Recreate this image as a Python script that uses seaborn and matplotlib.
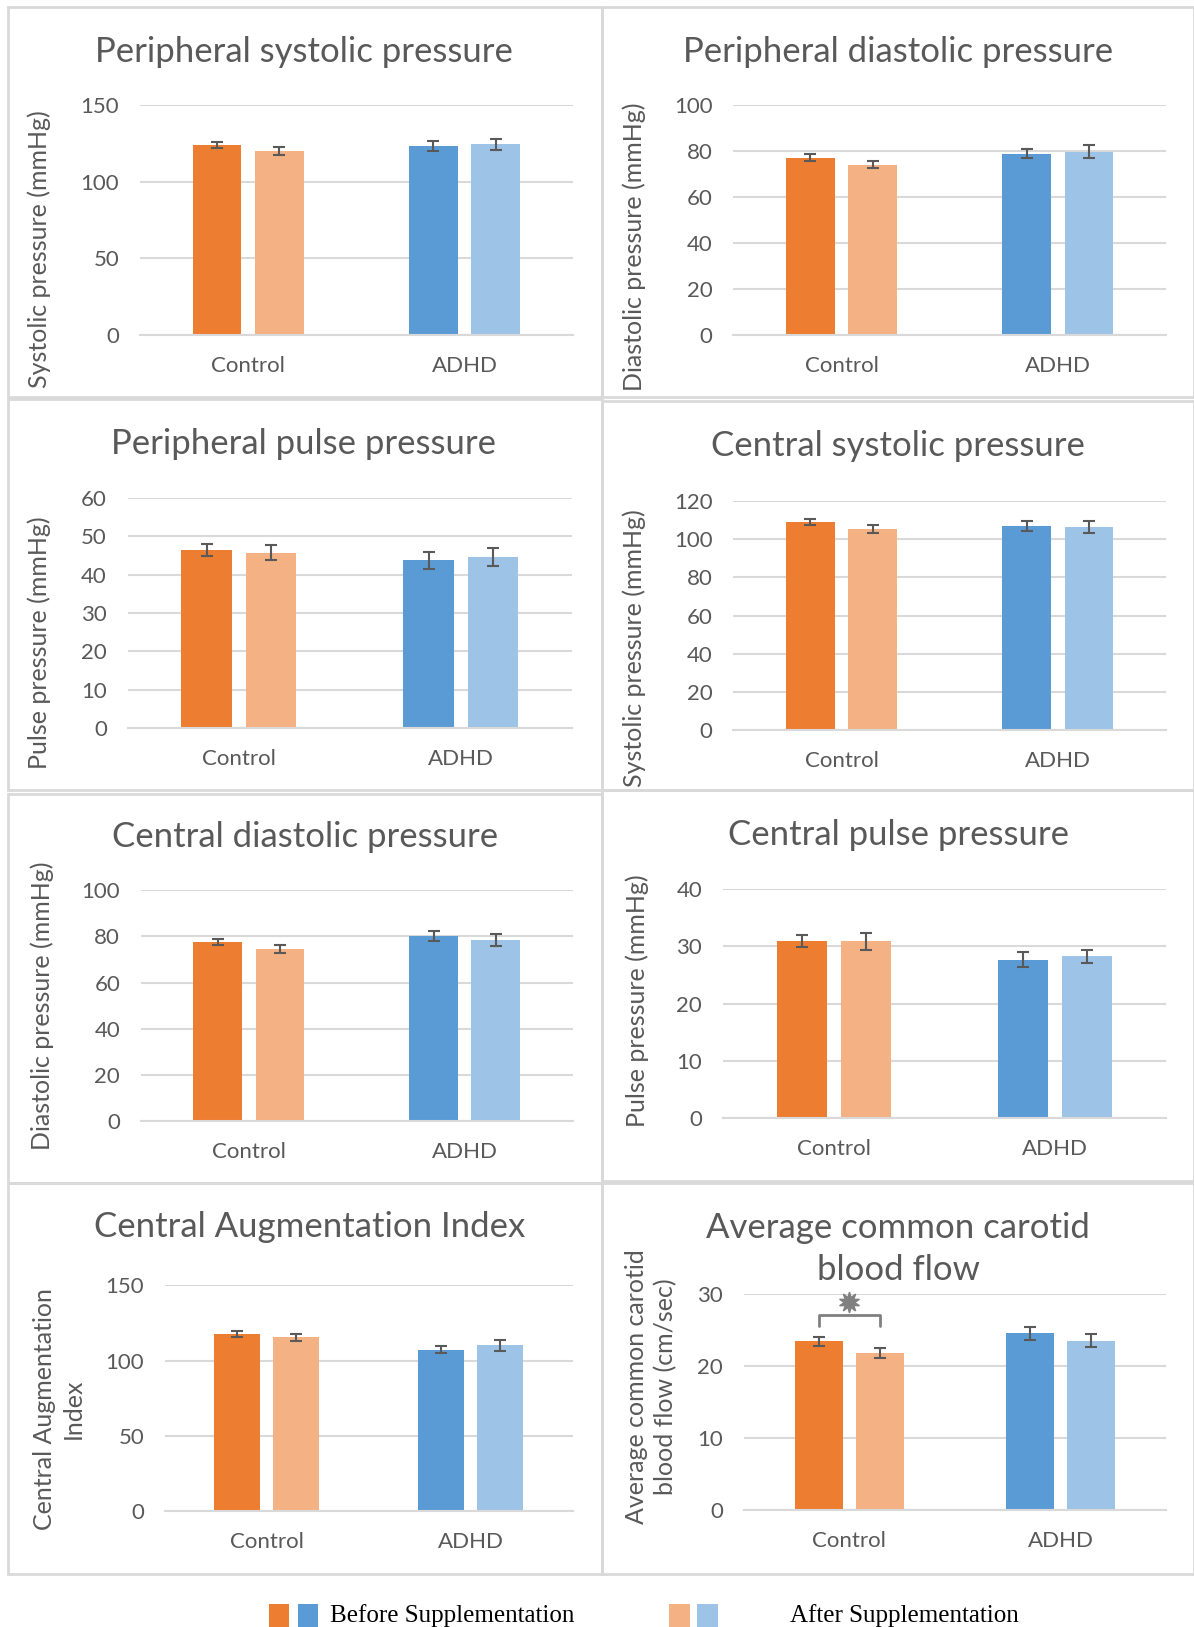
import numpy as np
import pandas as pd
import matplotlib
matplotlib.use("Agg")
import matplotlib.pyplot as plt
import seaborn as sns
from matplotlib.patches import Rectangle

W, H = 1194, 1627
S = 1194 / 1151  # layout was measured on the shrunk view

groups = ["Control", "ADHD"]
times = ["Before Supplementation", "After Supplementation"]

# value order: Control before, Control after, ADHD before, ADHD after
periph_sys = [123.8, 119.9, 123.1, 124.4]
periph_sys_err = [2.0, 2.5, 3.3, 3.6]
periph_dia = [77.0, 73.9, 78.8, 79.7]
periph_dia_err = [1.5, 1.5, 2.0, 2.7]
periph_pulse = [46.5, 45.7, 43.8, 44.6]
periph_pulse_err = [1.6, 2.0, 2.2, 2.4]
central_sys = [109.1, 105.3, 107.0, 106.4]
central_sys_err = [1.6, 2.2, 2.7, 3.0]
central_dia = [77.4, 74.6, 80.0, 78.3]
central_dia_err = [1.3, 1.8, 2.2, 2.7]
central_pulse = [31.0, 30.85, 27.7, 28.25]
central_pulse_err = [1.05, 1.55, 1.25, 1.15]
central_aix = [117.7, 115.6, 107.4, 110.1]
central_aix_err = [2.0, 2.4, 2.0, 3.4]
carotid_flow = [23.4, 21.8, 24.5, 23.5]
carotid_flow_err = [0.6, 0.65, 0.9, 0.9]

titles = ["Peripheral systolic pressure", "Peripheral diastolic pressure",
          "Peripheral pulse pressure", "Central systolic pressure",
          "Central diastolic pressure", "Central pulse pressure",
          "Central Augmentation Index", "Average common carotid\nblood flow"]
ylabels = ["Systolic pressure (mmHg)", "Diastolic pressure (mmHg)",
           "Pulse pressure (mmHg)", "Systolic pressure (mmHg)",
           "Diastolic pressure (mmHg)", "Pulse pressure (mmHg)",
           "Central Augmentation\nIndex", "Average common carotid\nblood flow (cm/sec)"]
series = [(periph_sys, periph_sys_err), (periph_dia, periph_dia_err),
          (periph_pulse, periph_pulse_err), (central_sys, central_sys_err),
          (central_dia, central_dia_err), (central_pulse, central_pulse_err),
          (central_aix, central_aix_err), (carotid_flow, carotid_flow_err)]
ymax = [150, 100, 60, 120, 100, 40, 150, 30]
ystep = [50, 20, 10, 20, 20, 10, 50, 10]

# layout in shrunk-view pixels
axes_box = [(135, 552, 101, 323), (707, 1124, 101, 323),
            (123, 551, 480, 702), (707, 1124, 483, 704),
            (136, 552, 858, 1081), (697, 1124, 857, 1078),
            (159, 552, 1239, 1457), (717, 1124, 1247, 1456)]
border_box = [(8, 580, 7, 383), (580, 1151, 7, 383),
              (8, 580, 385, 762), (580, 1151, 387, 762),
              (8, 580, 765, 1140), (580, 1151, 762, 1138),
              (8, 580, 1140, 1517), (580, 1151, 1140, 1517)]
title_pos = [(293, 50), (866, 50), (293, 428), (866, 430),
             (294, 807), (866, 805), (298, 1183), (866, 1204)]
ylabel_pos = [(38, 240), (611, 238), (38, 620), (611, 625),
              (41, 970), (614, 965), (57, 1358), (628, 1337)]

colors = {"Control": ["#ED7D31", "#F4B183"], "ADHD": ["#5B9BD5", "#9DC3E6"]}
TXT = "#595959"
GRID = "#D9D9D9"


def fx(px):
    return px * S / W


def fy(py):
    return 1 - py * S / H


sns.set_theme(style="white")
plt.rcParams["font.family"] = ["Lato", "DejaVu Sans"]

fig = plt.figure(figsize=(W / 100, H / 100), dpi=100)

for i in range(8):
    l, r, t, b = border_box[i]
    fig.add_artist(Rectangle((fx(l), fy(b)), fx(r) - fx(l), fy(t) - fy(b),
                             transform=fig.transFigure, fill=False,
                             edgecolor=GRID, lw=2))

    l, r, t, b = axes_box[i]
    ax = fig.add_axes([fx(l), fy(b), fx(r) - fx(l), fy(t) - fy(b)])
    means, errs = series[i]
    df = pd.DataFrame({"group": np.repeat(groups, 2),
                       "time": times * 2,
                       "value": means})
    sns.barplot(data=df, x="group", y="value", hue="time", order=groups,
                hue_order=times, width=0.577, gap=0.217, errorbar=None,
                legend=False, saturation=1, ax=ax,
                palette=colors["Control"])

    centers = {}
    for hi, cont in enumerate(list(ax.containers)):
        for gi, bar in enumerate(cont):
            bar.set_facecolor(colors[groups[gi]][hi])
            bar.set_edgecolor("none")
            cx = bar.get_x() + bar.get_width() / 2
            centers[(gi, hi)] = cx
            ax.errorbar(cx, bar.get_height(), yerr=errs[gi * 2 + hi],
                        fmt="none", ecolor="#595959", elinewidth=1.5,
                        capsize=4.5, capthick=1.5, zorder=5)

    ax.set_ylim(0, ymax[i])
    ax.set_xlim(-0.5, 1.5)
    ax.set_yticks(np.arange(0, ymax[i] + 1, ystep[i]))
    ax.grid(axis="y", color=GRID, lw=1.5)
    ax.set_axisbelow(True)
    for side in ["top", "right", "left"]:
        ax.spines[side].set_visible(False)
    ax.spines["bottom"].set_color(GRID)
    ax.spines["bottom"].set_linewidth(1.5)
    ax.tick_params(axis="both", length=0, labelsize=16, colors=TXT)
    ax.tick_params(axis="y", pad=15)
    ax.tick_params(axis="x", pad=15)
    ax.set_xlabel("")
    ax.set_ylabel(ylabels[i], fontsize=18, color=TXT, linespacing=1.3)
    ax.yaxis.label.set_verticalalignment("center")
    ax.yaxis.set_label_coords(fx(ylabel_pos[i][0]), fy(ylabel_pos[i][1]),
                              transform=fig.transFigure)

    tx, ty = title_pos[i]
    fig.text(fx(tx), fy(ty), titles[i], ha="center", va="center",
             fontsize=25, color=TXT, linespacing=1.35)

    if i == 7:
        # significance bracket between Control before/after
        x0, x1 = centers[(0, 0)], centers[(0, 1)]
        ax.plot([x0, x0, x1, x1], [25.5, 27.0, 27.0, 25.5],
                color="#808080", lw=2, clip_on=False)
        ax.plot((x0 + x1) / 2, 28.8, marker=(10, 1, 0), ms=15,
                color="#808080", clip_on=False)

# legend at the bottom
legend_y = 1557
for x0, c in [(259, "#ED7D31"), (287, "#5B9BD5"),
              (645, "#F4B183"), (672, "#9DC3E6")]:
    fig.add_artist(Rectangle((fx(x0), fy(1568)), fx(20), fy(1546) - fy(1568),
                             transform=fig.transFigure, color=c, lw=0))
fig.text(fx(318), fy(legend_y), "Before Supplementation", ha="left",
         va="center", fontsize=18, family="Liberation Serif", color="black")
fig.text(fx(762), fy(legend_y), "After Supplementation", ha="left",
         va="center", fontsize=18, family="Liberation Serif", color="black")

fig.savefig("out.png", dpi=100, facecolor="white")
